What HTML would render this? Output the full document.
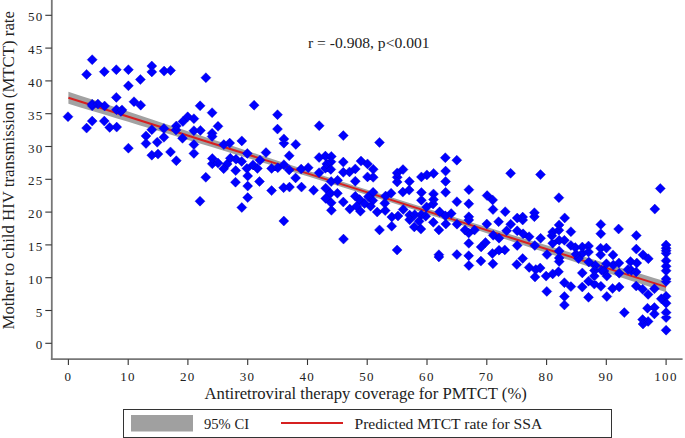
<!DOCTYPE html>
<html><head><meta charset="utf-8"><style>
html,body{margin:0;padding:0;background:#fff;}
svg{display:block;}
text{font-family:"Liberation Serif",serif;fill:#222;}
</style></head><body>
<svg width="685" height="438" viewBox="0 0 685 438">
<rect width="685" height="438" fill="#fff"/>
<path d="M68.4 91.7 L80.4 95.7 L92.3 99.6 L104.3 103.6 L116.2 107.6 L128.2 111.5 L140.1 115.5 L152.1 119.4 L164.0 123.4 L176.0 127.3 L187.9 131.3 L199.9 135.2 L211.8 139.2 L223.8 143.1 L235.8 147.0 L247.7 151.0 L259.7 154.9 L271.6 158.8 L283.6 162.7 L295.5 166.6 L307.5 170.5 L319.4 174.4 L331.4 178.2 L343.3 182.1 L355.3 185.9 L367.2 189.7 L379.2 193.5 L391.2 197.3 L403.1 201.1 L415.1 204.8 L427.0 208.6 L439.0 212.3 L450.9 216.0 L462.9 219.7 L474.8 223.4 L486.8 227.1 L498.7 230.7 L510.7 234.4 L522.7 238.1 L534.6 241.7 L546.6 245.3 L558.5 249.0 L570.5 252.6 L582.4 256.2 L594.4 259.8 L606.3 263.5 L618.3 267.1 L630.2 270.7 L642.2 274.3 L654.1 277.9 L666.1 281.5 L666.1 292.3 L654.1 288.3 L642.2 284.3 L630.2 280.4 L618.3 276.4 L606.3 272.5 L594.4 268.5 L582.4 264.6 L570.5 260.6 L558.5 256.7 L546.6 252.8 L534.6 248.9 L522.7 244.9 L510.7 241.0 L498.7 237.1 L486.8 233.2 L474.8 229.3 L462.9 225.4 L450.9 221.6 L439.0 217.7 L427.0 213.9 L415.1 210.1 L403.1 206.3 L391.2 202.5 L379.2 198.7 L367.2 194.9 L355.3 191.2 L343.3 187.5 L331.4 183.7 L319.4 180.0 L307.5 176.3 L295.5 172.7 L283.6 169.0 L271.6 165.3 L259.7 161.7 L247.7 158.0 L235.8 154.4 L223.8 150.8 L211.8 147.1 L199.9 143.5 L187.9 139.9 L176.0 136.3 L164.0 132.6 L152.1 129.0 L140.1 125.4 L128.2 121.8 L116.2 118.2 L104.3 114.6 L92.3 111.0 L80.4 107.4 L68.4 103.8Z" fill="#a2a2a2"/>
<line x1="68.4" y1="97.8" x2="666.1" y2="286.9" stroke="#d62020" stroke-width="2"/>
<path d="M92.2 54.7l5.0 5.0l-5.0 5.0l-5.0 -5.0zM86.6 69.4l5.0 5.0l-5.0 5.0l-5.0 -5.0zM104.3 66.7l5.0 5.0l-5.0 5.0l-5.0 -5.0zM116.3 64.7l5.0 5.0l-5.0 5.0l-5.0 -5.0zM128.4 64.7l5.0 5.0l-5.0 5.0l-5.0 -5.0zM151.8 61.0l5.0 5.0l-5.0 5.0l-5.0 -5.0zM151.8 66.9l5.0 5.0l-5.0 5.0l-5.0 -5.0zM140.4 74.5l5.0 5.0l-5.0 5.0l-5.0 -5.0zM128.4 80.8l5.0 5.0l-5.0 5.0l-5.0 -5.0zM116.3 92.4l5.0 5.0l-5.0 5.0l-5.0 -5.0zM164.1 66.1l5.0 5.0l-5.0 5.0l-5.0 -5.0zM170.6 65.4l5.0 5.0l-5.0 5.0l-5.0 -5.0zM205.9 72.7l5.0 5.0l-5.0 5.0l-5.0 -5.0zM68.0 111.7l5.0 5.0l-5.0 5.0l-5.0 -5.0zM92.2 116.1l5.0 5.0l-5.0 5.0l-5.0 -5.0zM86.6 123.1l5.0 5.0l-5.0 5.0l-5.0 -5.0zM104.3 116.1l5.0 5.0l-5.0 5.0l-5.0 -5.0zM109.7 122.4l5.0 5.0l-5.0 5.0l-5.0 -5.0zM116.7 122.1l5.0 5.0l-5.0 5.0l-5.0 -5.0zM128.4 143.2l5.0 5.0l-5.0 5.0l-5.0 -5.0zM151.8 124.7l5.0 5.0l-5.0 5.0l-5.0 -5.0zM146.0 130.9l5.0 5.0l-5.0 5.0l-5.0 -5.0zM146.0 138.5l5.0 5.0l-5.0 5.0l-5.0 -5.0zM157.2 137.3l5.0 5.0l-5.0 5.0l-5.0 -5.0zM151.8 150.2l5.0 5.0l-5.0 5.0l-5.0 -5.0zM92.2 99.2l5.0 5.0l-5.0 5.0l-5.0 -5.0zM92.2 100.7l5.0 5.0l-5.0 5.0l-5.0 -5.0zM97.9 99.1l5.0 5.0l-5.0 5.0l-5.0 -5.0zM104.6 101.0l5.0 5.0l-5.0 5.0l-5.0 -5.0zM116.5 104.7l5.0 5.0l-5.0 5.0l-5.0 -5.0zM122.0 104.9l5.0 5.0l-5.0 5.0l-5.0 -5.0zM120.9 106.4l5.0 5.0l-5.0 5.0l-5.0 -5.0zM134.0 96.7l5.0 5.0l-5.0 5.0l-5.0 -5.0zM140.7 100.2l5.0 5.0l-5.0 5.0l-5.0 -5.0zM200.1 100.8l5.0 5.0l-5.0 5.0l-5.0 -5.0zM212.1 107.7l5.0 5.0l-5.0 5.0l-5.0 -5.0zM187.7 111.8l5.0 5.0l-5.0 5.0l-5.0 -5.0zM193.9 113.7l5.0 5.0l-5.0 5.0l-5.0 -5.0zM182.9 116.6l5.0 5.0l-5.0 5.0l-5.0 -5.0zM176.3 121.0l5.0 5.0l-5.0 5.0l-5.0 -5.0zM176.0 125.0l5.0 5.0l-5.0 5.0l-5.0 -5.0zM163.9 123.5l5.0 5.0l-5.0 5.0l-5.0 -5.0zM163.9 132.3l5.0 5.0l-5.0 5.0l-5.0 -5.0zM182.5 133.3l5.0 5.0l-5.0 5.0l-5.0 -5.0zM193.9 125.7l5.0 5.0l-5.0 5.0l-5.0 -5.0zM200.4 125.4l5.0 5.0l-5.0 5.0l-5.0 -5.0zM212.1 128.3l5.0 5.0l-5.0 5.0l-5.0 -5.0zM212.1 131.5l5.0 5.0l-5.0 5.0l-5.0 -5.0zM218.0 121.3l5.0 5.0l-5.0 5.0l-5.0 -5.0zM193.9 139.6l5.0 5.0l-5.0 5.0l-5.0 -5.0zM193.9 148.4l5.0 5.0l-5.0 5.0l-5.0 -5.0zM170.5 146.9l5.0 5.0l-5.0 5.0l-5.0 -5.0zM176.3 155.7l5.0 5.0l-5.0 5.0l-5.0 -5.0zM158.0 149.1l5.0 5.0l-5.0 5.0l-5.0 -5.0zM223.8 139.6l5.0 5.0l-5.0 5.0l-5.0 -5.0zM229.7 138.1l5.0 5.0l-5.0 5.0l-5.0 -5.0zM241.8 135.9l5.0 5.0l-5.0 5.0l-5.0 -5.0zM247.3 148.4l5.0 5.0l-5.0 5.0l-5.0 -5.0zM266.0 147.6l5.0 5.0l-5.0 5.0l-5.0 -5.0zM212.3 153.5l5.0 5.0l-5.0 5.0l-5.0 -5.0zM212.3 158.8l5.0 5.0l-5.0 5.0l-5.0 -5.0zM218.0 158.1l5.0 5.0l-5.0 5.0l-5.0 -5.0zM223.7 163.7l5.0 5.0l-5.0 5.0l-5.0 -5.0zM230.3 153.3l5.0 5.0l-5.0 5.0l-5.0 -5.0zM236.0 154.2l5.0 5.0l-5.0 5.0l-5.0 -5.0zM235.7 165.6l5.0 5.0l-5.0 5.0l-5.0 -5.0zM227.2 159.0l5.0 5.0l-5.0 5.0l-5.0 -5.0zM241.7 156.4l5.0 5.0l-5.0 5.0l-5.0 -5.0zM246.9 163.4l5.0 5.0l-5.0 5.0l-5.0 -5.0zM253.0 159.9l5.0 5.0l-5.0 5.0l-5.0 -5.0zM260.0 155.2l5.0 5.0l-5.0 5.0l-5.0 -5.0zM257.4 163.4l5.0 5.0l-5.0 5.0l-5.0 -5.0zM254.1 100.2l5.0 5.0l-5.0 5.0l-5.0 -5.0zM277.5 109.7l5.0 5.0l-5.0 5.0l-5.0 -5.0zM277.5 124.1l5.0 5.0l-5.0 5.0l-5.0 -5.0zM283.9 133.9l5.0 5.0l-5.0 5.0l-5.0 -5.0zM283.9 138.2l5.0 5.0l-5.0 5.0l-5.0 -5.0zM295.8 139.4l5.0 5.0l-5.0 5.0l-5.0 -5.0zM319.2 120.7l5.0 5.0l-5.0 5.0l-5.0 -5.0zM343.3 130.6l5.0 5.0l-5.0 5.0l-5.0 -5.0zM289.2 150.7l5.0 5.0l-5.0 5.0l-5.0 -5.0zM271.6 163.4l5.0 5.0l-5.0 5.0l-5.0 -5.0zM277.8 162.7l5.0 5.0l-5.0 5.0l-5.0 -5.0zM283.9 159.7l5.0 5.0l-5.0 5.0l-5.0 -5.0zM289.2 164.9l5.0 5.0l-5.0 5.0l-5.0 -5.0zM301.2 164.1l5.0 5.0l-5.0 5.0l-5.0 -5.0zM308.2 162.7l5.0 5.0l-5.0 5.0l-5.0 -5.0zM295.6 172.9l5.0 5.0l-5.0 5.0l-5.0 -5.0zM259.5 176.5l5.0 5.0l-5.0 5.0l-5.0 -5.0zM271.6 185.6l5.0 5.0l-5.0 5.0l-5.0 -5.0zM283.6 182.7l5.0 5.0l-5.0 5.0l-5.0 -5.0zM289.5 182.1l5.0 5.0l-5.0 5.0l-5.0 -5.0zM301.5 182.1l5.0 5.0l-5.0 5.0l-5.0 -5.0zM313.6 185.3l5.0 5.0l-5.0 5.0l-5.0 -5.0zM319.1 152.5l5.0 5.0l-5.0 5.0l-5.0 -5.0zM325.4 151.1l5.0 5.0l-5.0 5.0l-5.0 -5.0zM331.3 151.4l5.0 5.0l-5.0 5.0l-5.0 -5.0zM331.0 156.7l5.0 5.0l-5.0 5.0l-5.0 -5.0zM326.8 158.9l5.0 5.0l-5.0 5.0l-5.0 -5.0zM330.8 164.4l5.0 5.0l-5.0 5.0l-5.0 -5.0zM325.4 163.3l5.0 5.0l-5.0 5.0l-5.0 -5.0zM319.1 167.7l5.0 5.0l-5.0 5.0l-5.0 -5.0zM343.3 157.1l5.0 5.0l-5.0 5.0l-5.0 -5.0zM343.3 167.3l5.0 5.0l-5.0 5.0l-5.0 -5.0zM349.5 166.9l5.0 5.0l-5.0 5.0l-5.0 -5.0zM355.3 163.9l5.0 5.0l-5.0 5.0l-5.0 -5.0zM331.2 176.6l5.0 5.0l-5.0 5.0l-5.0 -5.0zM337.6 175.3l5.0 5.0l-5.0 5.0l-5.0 -5.0zM355.3 176.2l5.0 5.0l-5.0 5.0l-5.0 -5.0zM325.7 183.2l5.0 5.0l-5.0 5.0l-5.0 -5.0zM337.4 188.3l5.0 5.0l-5.0 5.0l-5.0 -5.0zM325.7 193.4l5.0 5.0l-5.0 5.0l-5.0 -5.0zM330.5 188.3l5.0 5.0l-5.0 5.0l-5.0 -5.0zM331.2 197.8l5.0 5.0l-5.0 5.0l-5.0 -5.0zM343.3 197.0l5.0 5.0l-5.0 5.0l-5.0 -5.0zM355.3 191.3l5.0 5.0l-5.0 5.0l-5.0 -5.0zM205.8 172.3l5.0 5.0l-5.0 5.0l-5.0 -5.0zM200.0 196.2l5.0 5.0l-5.0 5.0l-5.0 -5.0zM235.5 177.2l5.0 5.0l-5.0 5.0l-5.0 -5.0zM241.8 202.5l5.0 5.0l-5.0 5.0l-5.0 -5.0zM247.7 171.0l5.0 5.0l-5.0 5.0l-5.0 -5.0zM247.7 181.1l5.0 5.0l-5.0 5.0l-5.0 -5.0zM247.7 192.6l5.0 5.0l-5.0 5.0l-5.0 -5.0zM283.8 216.0l5.0 5.0l-5.0 5.0l-5.0 -5.0zM379.5 137.4l5.0 5.0l-5.0 5.0l-5.0 -5.0zM445.3 152.7l5.0 5.0l-5.0 5.0l-5.0 -5.0zM361.0 156.1l5.0 5.0l-5.0 5.0l-5.0 -5.0zM367.5 158.9l5.0 5.0l-5.0 5.0l-5.0 -5.0zM373.2 164.3l5.0 5.0l-5.0 5.0l-5.0 -5.0zM367.5 171.9l5.0 5.0l-5.0 5.0l-5.0 -5.0zM373.2 172.3l5.0 5.0l-5.0 5.0l-5.0 -5.0zM403.0 164.6l5.0 5.0l-5.0 5.0l-5.0 -5.0zM397.2 167.9l5.0 5.0l-5.0 5.0l-5.0 -5.0zM397.2 172.3l5.0 5.0l-5.0 5.0l-5.0 -5.0zM397.2 177.0l5.0 5.0l-5.0 5.0l-5.0 -5.0zM409.4 176.5l5.0 5.0l-5.0 5.0l-5.0 -5.0zM421.4 171.9l5.0 5.0l-5.0 5.0l-5.0 -5.0zM426.9 169.9l5.0 5.0l-5.0 5.0l-5.0 -5.0zM433.6 168.4l5.0 5.0l-5.0 5.0l-5.0 -5.0zM373.1 187.3l5.0 5.0l-5.0 5.0l-5.0 -5.0zM368.4 191.7l5.0 5.0l-5.0 5.0l-5.0 -5.0zM359.6 194.6l5.0 5.0l-5.0 5.0l-5.0 -5.0zM372.8 195.4l5.0 5.0l-5.0 5.0l-5.0 -5.0zM349.8 204.1l5.0 5.0l-5.0 5.0l-5.0 -5.0zM360.4 206.2l5.0 5.0l-5.0 5.0l-5.0 -5.0zM356.7 201.2l5.0 5.0l-5.0 5.0l-5.0 -5.0zM370.6 201.2l5.0 5.0l-5.0 5.0l-5.0 -5.0zM377.2 207.0l5.0 5.0l-5.0 5.0l-5.0 -5.0zM385.6 191.0l5.0 5.0l-5.0 5.0l-5.0 -5.0zM391.1 188.2l5.0 5.0l-5.0 5.0l-5.0 -5.0zM384.8 198.3l5.0 5.0l-5.0 5.0l-5.0 -5.0zM385.2 205.6l5.0 5.0l-5.0 5.0l-5.0 -5.0zM391.8 212.0l5.0 5.0l-5.0 5.0l-5.0 -5.0zM402.8 187.1l5.0 5.0l-5.0 5.0l-5.0 -5.0zM409.2 185.1l5.0 5.0l-5.0 5.0l-5.0 -5.0zM421.4 187.5l5.0 5.0l-5.0 5.0l-5.0 -5.0zM433.5 188.9l5.0 5.0l-5.0 5.0l-5.0 -5.0zM433.5 194.6l5.0 5.0l-5.0 5.0l-5.0 -5.0zM421.4 195.2l5.0 5.0l-5.0 5.0l-5.0 -5.0zM426.6 201.9l5.0 5.0l-5.0 5.0l-5.0 -5.0zM433.1 199.0l5.0 5.0l-5.0 5.0l-5.0 -5.0zM403.2 204.5l5.0 5.0l-5.0 5.0l-5.0 -5.0zM379.5 224.9l5.0 5.0l-5.0 5.0l-5.0 -5.0zM391.7 221.2l5.0 5.0l-5.0 5.0l-5.0 -5.0zM397.1 245.0l5.0 5.0l-5.0 5.0l-5.0 -5.0zM438.9 249.7l5.0 5.0l-5.0 5.0l-5.0 -5.0zM438.9 251.9l5.0 5.0l-5.0 5.0l-5.0 -5.0zM420.9 224.1l5.0 5.0l-5.0 5.0l-5.0 -5.0zM414.3 221.9l5.0 5.0l-5.0 5.0l-5.0 -5.0zM438.9 224.9l5.0 5.0l-5.0 5.0l-5.0 -5.0zM433.3 217.3l5.0 5.0l-5.0 5.0l-5.0 -5.0zM445.8 219.0l5.0 5.0l-5.0 5.0l-5.0 -5.0zM398.0 211.0l5.0 5.0l-5.0 5.0l-5.0 -5.0zM409.6 210.1l5.0 5.0l-5.0 5.0l-5.0 -5.0zM414.7 209.7l5.0 5.0l-5.0 5.0l-5.0 -5.0zM421.3 209.7l5.0 5.0l-5.0 5.0l-5.0 -5.0zM425.7 211.2l5.0 5.0l-5.0 5.0l-5.0 -5.0zM419.1 216.3l5.0 5.0l-5.0 5.0l-5.0 -5.0zM409.6 214.8l5.0 5.0l-5.0 5.0l-5.0 -5.0zM439.6 206.8l5.0 5.0l-5.0 5.0l-5.0 -5.0zM456.8 155.2l5.0 5.0l-5.0 5.0l-5.0 -5.0zM445.6 166.1l5.0 5.0l-5.0 5.0l-5.0 -5.0zM445.6 176.4l5.0 5.0l-5.0 5.0l-5.0 -5.0zM445.6 187.3l5.0 5.0l-5.0 5.0l-5.0 -5.0zM468.9 184.7l5.0 5.0l-5.0 5.0l-5.0 -5.0zM487.1 190.6l5.0 5.0l-5.0 5.0l-5.0 -5.0zM492.6 194.9l5.0 5.0l-5.0 5.0l-5.0 -5.0zM456.9 196.7l5.0 5.0l-5.0 5.0l-5.0 -5.0zM468.8 198.8l5.0 5.0l-5.0 5.0l-5.0 -5.0zM510.6 168.3l5.0 5.0l-5.0 5.0l-5.0 -5.0zM451.2 208.6l5.0 5.0l-5.0 5.0l-5.0 -5.0zM445.3 210.8l5.0 5.0l-5.0 5.0l-5.0 -5.0zM468.8 211.8l5.0 5.0l-5.0 5.0l-5.0 -5.0zM468.8 214.9l5.0 5.0l-5.0 5.0l-5.0 -5.0zM457.0 219.2l5.0 5.0l-5.0 5.0l-5.0 -5.0zM486.8 219.0l5.0 5.0l-5.0 5.0l-5.0 -5.0zM493.0 204.6l5.0 5.0l-5.0 5.0l-5.0 -5.0zM505.2 206.7l5.0 5.0l-5.0 5.0l-5.0 -5.0zM517.2 213.0l5.0 5.0l-5.0 5.0l-5.0 -5.0zM522.7 212.1l5.0 5.0l-5.0 5.0l-5.0 -5.0zM522.7 215.0l5.0 5.0l-5.0 5.0l-5.0 -5.0zM534.4 207.7l5.0 5.0l-5.0 5.0l-5.0 -5.0zM534.4 211.7l5.0 5.0l-5.0 5.0l-5.0 -5.0zM498.6 216.7l5.0 5.0l-5.0 5.0l-5.0 -5.0zM510.7 219.2l5.0 5.0l-5.0 5.0l-5.0 -5.0zM465.0 225.1l5.0 5.0l-5.0 5.0l-5.0 -5.0zM468.7 228.0l5.0 5.0l-5.0 5.0l-5.0 -5.0zM474.5 225.1l5.0 5.0l-5.0 5.0l-5.0 -5.0zM468.8 238.3l5.0 5.0l-5.0 5.0l-5.0 -5.0zM481.1 241.9l5.0 5.0l-5.0 5.0l-5.0 -5.0zM485.5 237.5l5.0 5.0l-5.0 5.0l-5.0 -5.0zM456.9 249.6l5.0 5.0l-5.0 5.0l-5.0 -5.0zM468.7 250.7l5.0 5.0l-5.0 5.0l-5.0 -5.0zM517.2 225.8l5.0 5.0l-5.0 5.0l-5.0 -5.0zM523.1 228.8l5.0 5.0l-5.0 5.0l-5.0 -5.0zM529.1 231.7l5.0 5.0l-5.0 5.0l-5.0 -5.0zM493.2 230.3l5.0 5.0l-5.0 5.0l-5.0 -5.0zM499.0 233.2l5.0 5.0l-5.0 5.0l-5.0 -5.0zM517.2 240.5l5.0 5.0l-5.0 5.0l-5.0 -5.0zM534.8 240.5l5.0 5.0l-5.0 5.0l-5.0 -5.0zM504.8 244.9l5.0 5.0l-5.0 5.0l-5.0 -5.0zM499.0 245.2l5.0 5.0l-5.0 5.0l-5.0 -5.0zM492.4 248.5l5.0 5.0l-5.0 5.0l-5.0 -5.0zM522.7 253.5l5.0 5.0l-5.0 5.0l-5.0 -5.0zM468.9 260.5l5.0 5.0l-5.0 5.0l-5.0 -5.0zM480.9 256.1l5.0 5.0l-5.0 5.0l-5.0 -5.0zM492.9 258.8l5.0 5.0l-5.0 5.0l-5.0 -5.0zM516.8 259.5l5.0 5.0l-5.0 5.0l-5.0 -5.0zM529.2 262.4l5.0 5.0l-5.0 5.0l-5.0 -5.0zM535.8 264.6l5.0 5.0l-5.0 5.0l-5.0 -5.0zM535.0 271.9l5.0 5.0l-5.0 5.0l-5.0 -5.0zM540.5 169.6l5.0 5.0l-5.0 5.0l-5.0 -5.0zM558.9 192.7l5.0 5.0l-5.0 5.0l-5.0 -5.0zM564.7 212.9l5.0 5.0l-5.0 5.0l-5.0 -5.0zM559.1 219.9l5.0 5.0l-5.0 5.0l-5.0 -5.0zM558.9 225.2l5.0 5.0l-5.0 5.0l-5.0 -5.0zM552.7 227.0l5.0 5.0l-5.0 5.0l-5.0 -5.0zM551.9 230.7l5.0 5.0l-5.0 5.0l-5.0 -5.0zM570.9 226.7l5.0 5.0l-5.0 5.0l-5.0 -5.0zM540.6 233.3l5.0 5.0l-5.0 5.0l-5.0 -5.0zM552.7 238.2l5.0 5.0l-5.0 5.0l-5.0 -5.0zM559.2 235.3l5.0 5.0l-5.0 5.0l-5.0 -5.0zM564.4 235.3l5.0 5.0l-5.0 5.0l-5.0 -5.0zM570.9 240.4l5.0 5.0l-5.0 5.0l-5.0 -5.0zM575.3 242.6l5.0 5.0l-5.0 5.0l-5.0 -5.0zM576.0 249.2l5.0 5.0l-5.0 5.0l-5.0 -5.0zM559.2 245.9l5.0 5.0l-5.0 5.0l-5.0 -5.0zM559.2 252.9l5.0 5.0l-5.0 5.0l-5.0 -5.0zM559.2 256.5l5.0 5.0l-5.0 5.0l-5.0 -5.0zM547.0 249.6l5.0 5.0l-5.0 5.0l-5.0 -5.0zM600.8 219.4l5.0 5.0l-5.0 5.0l-5.0 -5.0zM600.8 228.7l5.0 5.0l-5.0 5.0l-5.0 -5.0zM618.6 224.0l5.0 5.0l-5.0 5.0l-5.0 -5.0zM582.3 242.0l5.0 5.0l-5.0 5.0l-5.0 -5.0zM588.5 241.0l5.0 5.0l-5.0 5.0l-5.0 -5.0zM588.5 247.0l5.0 5.0l-5.0 5.0l-5.0 -5.0zM582.3 248.5l5.0 5.0l-5.0 5.0l-5.0 -5.0zM588.8 257.0l5.0 5.0l-5.0 5.0l-5.0 -5.0zM600.6 243.2l5.0 5.0l-5.0 5.0l-5.0 -5.0zM606.4 243.1l5.0 5.0l-5.0 5.0l-5.0 -5.0zM600.6 249.8l5.0 5.0l-5.0 5.0l-5.0 -5.0zM613.0 249.9l5.0 5.0l-5.0 5.0l-5.0 -5.0zM606.4 258.7l5.0 5.0l-5.0 5.0l-5.0 -5.0zM618.9 258.0l5.0 5.0l-5.0 5.0l-5.0 -5.0zM595.3 260.5l5.0 5.0l-5.0 5.0l-5.0 -5.0zM601.6 265.2l5.0 5.0l-5.0 5.0l-5.0 -5.0zM613.3 260.1l5.0 5.0l-5.0 5.0l-5.0 -5.0zM619.2 268.2l5.0 5.0l-5.0 5.0l-5.0 -5.0zM628.0 264.5l5.0 5.0l-5.0 5.0l-5.0 -5.0zM588.5 276.2l5.0 5.0l-5.0 5.0l-5.0 -5.0zM594.3 271.1l5.0 5.0l-5.0 5.0l-5.0 -5.0zM594.3 279.1l5.0 5.0l-5.0 5.0l-5.0 -5.0zM600.9 281.3l5.0 5.0l-5.0 5.0l-5.0 -5.0zM606.8 271.1l5.0 5.0l-5.0 5.0l-5.0 -5.0zM612.6 283.5l5.0 5.0l-5.0 5.0l-5.0 -5.0zM619.2 282.0l5.0 5.0l-5.0 5.0l-5.0 -5.0zM582.3 267.9l5.0 5.0l-5.0 5.0l-5.0 -5.0zM582.3 282.0l5.0 5.0l-5.0 5.0l-5.0 -5.0zM540.2 263.0l5.0 5.0l-5.0 5.0l-5.0 -5.0zM546.1 271.1l5.0 5.0l-5.0 5.0l-5.0 -5.0zM552.7 268.9l5.0 5.0l-5.0 5.0l-5.0 -5.0zM558.5 266.7l5.0 5.0l-5.0 5.0l-5.0 -5.0zM546.8 286.4l5.0 5.0l-5.0 5.0l-5.0 -5.0zM564.4 277.7l5.0 5.0l-5.0 5.0l-5.0 -5.0zM570.9 281.6l5.0 5.0l-5.0 5.0l-5.0 -5.0zM564.4 291.5l5.0 5.0l-5.0 5.0l-5.0 -5.0zM564.4 300.0l5.0 5.0l-5.0 5.0l-5.0 -5.0zM588.5 292.3l5.0 5.0l-5.0 5.0l-5.0 -5.0zM606.8 291.5l5.0 5.0l-5.0 5.0l-5.0 -5.0zM624.3 307.6l5.0 5.0l-5.0 5.0l-5.0 -5.0zM660.3 183.5l5.0 5.0l-5.0 5.0l-5.0 -5.0zM654.8 204.1l5.0 5.0l-5.0 5.0l-5.0 -5.0zM636.3 230.5l5.0 5.0l-5.0 5.0l-5.0 -5.0zM636.3 244.1l5.0 5.0l-5.0 5.0l-5.0 -5.0zM643.0 249.8l5.0 5.0l-5.0 5.0l-5.0 -5.0zM648.3 253.7l5.0 5.0l-5.0 5.0l-5.0 -5.0zM630.5 256.6l5.0 5.0l-5.0 5.0l-5.0 -5.0zM636.8 258.0l5.0 5.0l-5.0 5.0l-5.0 -5.0zM631.4 265.5l5.0 5.0l-5.0 5.0l-5.0 -5.0zM636.2 266.9l5.0 5.0l-5.0 5.0l-5.0 -5.0zM666.1 240.0l5.0 5.0l-5.0 5.0l-5.0 -5.0zM666.1 243.2l5.0 5.0l-5.0 5.0l-5.0 -5.0zM666.1 245.7l5.0 5.0l-5.0 5.0l-5.0 -5.0zM666.1 248.2l5.0 5.0l-5.0 5.0l-5.0 -5.0zM666.1 255.7l5.0 5.0l-5.0 5.0l-5.0 -5.0zM666.1 261.3l5.0 5.0l-5.0 5.0l-5.0 -5.0zM666.1 265.7l5.0 5.0l-5.0 5.0l-5.0 -5.0zM666.1 273.9l5.0 5.0l-5.0 5.0l-5.0 -5.0zM666.1 276.4l5.0 5.0l-5.0 5.0l-5.0 -5.0zM654.4 283.8l5.0 5.0l-5.0 5.0l-5.0 -5.0zM648.1 289.4l5.0 5.0l-5.0 5.0l-5.0 -5.0zM666.1 291.3l5.0 5.0l-5.0 5.0l-5.0 -5.0zM661.3 293.8l5.0 5.0l-5.0 5.0l-5.0 -5.0zM666.1 298.2l5.0 5.0l-5.0 5.0l-5.0 -5.0zM654.4 302.6l5.0 5.0l-5.0 5.0l-5.0 -5.0zM647.5 303.2l5.0 5.0l-5.0 5.0l-5.0 -5.0zM654.4 308.9l5.0 5.0l-5.0 5.0l-5.0 -5.0zM666.1 307.6l5.0 5.0l-5.0 5.0l-5.0 -5.0zM666.1 312.6l5.0 5.0l-5.0 5.0l-5.0 -5.0zM648.1 316.4l5.0 5.0l-5.0 5.0l-5.0 -5.0zM666.1 325.2l5.0 5.0l-5.0 5.0l-5.0 -5.0zM636.2 281.0l5.0 5.0l-5.0 5.0l-5.0 -5.0zM642.6 284.2l5.0 5.0l-5.0 5.0l-5.0 -5.0zM642.6 314.6l5.0 5.0l-5.0 5.0l-5.0 -5.0zM643.0 319.0l5.0 5.0l-5.0 5.0l-5.0 -5.0zM343.5 234.1l5.0 5.0l-5.0 5.0l-5.0 -5.0zM331.4 205.3l5.0 5.0l-5.0 5.0l-5.0 -5.0zM594.5 265.5l5.0 5.0l-5.0 5.0l-5.0 -5.0zM604.0 266.0l5.0 5.0l-5.0 5.0l-5.0 -5.0zM578.5 253.6l5.0 5.0l-5.0 5.0l-5.0 -5.0zM506.6 225.8l5.0 5.0l-5.0 5.0l-5.0 -5.0zM364.5 198.5l5.0 5.0l-5.0 5.0l-5.0 -5.0z" fill="#0000ff" stroke="#0000c8" stroke-width="0.4"/>
<g stroke="#777" stroke-width="1.8">
<line x1="51.8" y1="0" x2="51.8" y2="360.1"/>
<line x1="50.9" y1="359.2" x2="682.6" y2="359.2"/>
</g>
<g stroke="#333" stroke-width="1.1"><line x1="45.3" y1="343.3" x2="51.8" y2="343.3"/><line x1="45.3" y1="310.5" x2="51.8" y2="310.5"/><line x1="45.3" y1="277.7" x2="51.8" y2="277.7"/><line x1="45.3" y1="244.9" x2="51.8" y2="244.9"/><line x1="45.3" y1="212.1" x2="51.8" y2="212.1"/><line x1="45.3" y1="179.3" x2="51.8" y2="179.3"/><line x1="45.3" y1="146.5" x2="51.8" y2="146.5"/><line x1="45.3" y1="113.7" x2="51.8" y2="113.7"/><line x1="45.3" y1="80.9" x2="51.8" y2="80.9"/><line x1="45.3" y1="48.1" x2="51.8" y2="48.1"/><line x1="45.3" y1="15.3" x2="51.8" y2="15.3"/><line x1="68.4" y1="359.2" x2="68.4" y2="365"/><line x1="128.2" y1="359.2" x2="128.2" y2="365"/><line x1="187.9" y1="359.2" x2="187.9" y2="365"/><line x1="247.7" y1="359.2" x2="247.7" y2="365"/><line x1="307.5" y1="359.2" x2="307.5" y2="365"/><line x1="367.2" y1="359.2" x2="367.2" y2="365"/><line x1="427.0" y1="359.2" x2="427.0" y2="365"/><line x1="486.8" y1="359.2" x2="486.8" y2="365"/><line x1="546.6" y1="359.2" x2="546.6" y2="365"/><line x1="606.3" y1="359.2" x2="606.3" y2="365"/><line x1="666.1" y1="359.2" x2="666.1" y2="365"/></g>
<g font-size="13" letter-spacing="1.3"><text x="43.5" y="349.4" text-anchor="end">0</text><text x="43.5" y="316.6" text-anchor="end">5</text><text x="43.5" y="283.8" text-anchor="end">10</text><text x="43.5" y="251.0" text-anchor="end">15</text><text x="43.5" y="218.2" text-anchor="end">20</text><text x="43.5" y="185.4" text-anchor="end">25</text><text x="43.5" y="152.6" text-anchor="end">30</text><text x="43.5" y="119.8" text-anchor="end">35</text><text x="43.5" y="87.0" text-anchor="end">40</text><text x="43.5" y="54.2" text-anchor="end">45</text><text x="43.5" y="21.4" text-anchor="end">50</text><text x="68.3" y="381" text-anchor="middle">0</text><text x="128.0" y="381" text-anchor="middle">10</text><text x="187.8" y="381" text-anchor="middle">20</text><text x="247.6" y="381" text-anchor="middle">30</text><text x="307.3" y="381" text-anchor="middle">40</text><text x="367.1" y="381" text-anchor="middle">50</text><text x="426.9" y="381" text-anchor="middle">60</text><text x="486.6" y="381" text-anchor="middle">70</text><text x="546.4" y="381" text-anchor="middle">80</text><text x="606.2" y="381" text-anchor="middle">90</text><text x="666.0" y="381" text-anchor="middle">100</text></g>
<text x="308" y="48" font-size="15.6">r = -0.908, p&lt;0.001</text>
<text x="204.5" y="399" font-size="16.68">Antiretroviral therapy coverage for PMTCT (%)</text>
<text transform="translate(14,329.5) rotate(-90)" font-size="16.8">Mother to child HIV transmission (MTCT) rate</text>
<rect x="123.5" y="409.5" width="488" height="28" fill="none" stroke="#333" stroke-width="1"/>
<rect x="131" y="415" width="62" height="16.5" fill="#a0a0a0"/>
<text x="204" y="429" font-size="14.6">95% CI</text>
<line x1="281" y1="423" x2="343" y2="423" stroke="#d62020" stroke-width="2"/>
<text x="354.5" y="429" font-size="15.6">Predicted MTCT rate for SSA</text>
</svg>
</body></html>
